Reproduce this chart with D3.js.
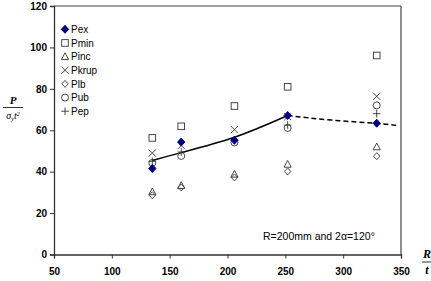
<!DOCTYPE html>
<html><head><meta charset="utf-8">
<script src="https://cdn.jsdelivr.net/npm/d3@7"></script>
<style>body{margin:0;background:#fff}svg{display:block}</style>
</head><body>
<svg id="c" width="431" height="281"></svg>
<script>
const xVals = [135, 160, 206, 252, 329];
const Pex   = [41.5, 54.3, 55.2, 67.1, 63.4];
const Pmin  = [56.3, 61.9, 71.7, 81.0, 96.1];
const Pinc  = [30.3, 33.3, 38.8, 43.6, 52.0];
const Pkrup = [49.0, 52.6, 60.3, 66.5, 76.4];
const Plb   = [28.6, 32.4, 37.2, 40.1, 47.5];
const Pub   = [44.2, 47.6, 54.1, 61.1, 72.0];
const Pep   = [45.0, 49.5, 55.0, 62.5, 68.0];
const fitSolid  = [[135, 45.4], [160, 49.2], [206, 56.6], [252, 67.1]];
const fitDashed = [[252, 67.1], [290, 64.9], [329, 63.3], [348, 62.2]];
const xTicks = [50, 100, 150, 200, 250, 300, 350];
const yTicks = [0, 20, 40, 60, 80, 100, 120];

const svg = d3.select("#c");
const x = d3.scaleLinear().domain([50, 350]).range([54, 401]);
const y = d3.scaleLinear().domain([0, 120]).range([254.5, 6]);

// frame top/right
svg.append("line").attr("x1",54).attr("x2",401).attr("y1",6).attr("y2",6).attr("stroke","#444").attr("stroke-width",1.2);
svg.append("line").attr("x1",401).attr("x2",401).attr("y1",6).attr("y2",254.5).attr("stroke","#444").attr("stroke-width",1.2);

const fontAx = "Arial, 'Liberation Sans', sans-serif";
const gx = svg.append("g").attr("transform","translate(0,254.5)")
  .call(d3.axisBottom(x).tickValues(xTicks).tickSize(4).tickPadding(9).tickFormat(d3.format("d")));
const gy = svg.append("g").attr("transform","translate(54,0)")
  .call(d3.axisLeft(y).tickValues(yTicks).tickSize(4).tickPadding(3).tickFormat(d3.format("d")));
[gx, gy].forEach(g => {
  g.select(".domain").attr("stroke","#333").attr("stroke-width",1.3);
  g.selectAll(".tick line").attr("stroke","#333");
  g.selectAll("text").attr("font-family",fontAx).attr("font-size","10px").attr("font-weight","bold").attr("fill","#000");
});

// fit lines
const lineS = d3.line().x(d => x(d[0])).y(d => y(d[1])).curve(d3.curveNatural);
svg.append("path").attr("d", lineS(fitSolid)).attr("fill","none").attr("stroke","#000").attr("stroke-width",1.5);
svg.append("path").attr("d", lineS(fitDashed)).attr("fill","none").attr("stroke","#000").attr("stroke-width",1.5).attr("stroke-dasharray","5,3");

// markers
function marker(g, type, cx, cy) {
  const s = 3.3;
  const st = {fill:"none", stroke:"#333", "stroke-width":0.9};
  const apply = (el, o) => { for (const k in o) el.attr(k, o[k]); return el; };
  if (type === "Pex") {
    g.append("path").attr("d",`M${cx},${cy-4}L${cx+3.6},${cy}L${cx},${cy+4}L${cx-3.6},${cy}Z`).attr("fill","#000080").attr("stroke","#000080");
  } else if (type === "Pmin") {
    apply(g.append("rect").attr("x",cx-s).attr("y",cy-s).attr("width",2*s).attr("height",2*s), st);
  } else if (type === "Pinc") {
    apply(g.append("path").attr("d",`M${cx},${cy-3.8}L${cx+3.6},${cy+3}L${cx-3.6},${cy+3}Z`), st);
  } else if (type === "Pkrup") {
    apply(g.append("path").attr("d",`M${cx-3.6},${cy-3.6}L${cx+3.6},${cy+3.6}M${cx+3.6},${cy-3.6}L${cx-3.6},${cy+3.6}`), st);
  } else if (type === "Plb") {
    apply(g.append("path").attr("d",`M${cx},${cy-3.5}L${cx+3.2},${cy}L${cx},${cy+3.5}L${cx-3.2},${cy}Z`), st);
  } else if (type === "Pub") {
    apply(g.append("circle").attr("cx",cx).attr("cy",cy).attr("r",3.5), st);
  } else if (type === "Pep") {
    apply(g.append("path").attr("d",`M${cx-3.8},${cy}L${cx+3.8},${cy}M${cx},${cy-3.8}L${cx},${cy+3.8}`), st);
  }
}
const series = [["Pex",Pex],["Pmin",Pmin],["Pinc",Pinc],["Pkrup",Pkrup],["Plb",Plb],["Pub",Pub],["Pep",Pep]];
const gm = svg.append("g");
series.slice(1).concat([series[0]]).forEach(([name, vals]) => {
  vals.forEach((v, i) => marker(gm, name, x(xVals[i]), y(v)));
});

// legend
const lg = svg.append("g");
series.forEach(([name], i) => {
  const ly = 29.3 + i * 13.65;
  marker(lg, name, 65, ly);
  lg.append("text").attr("x",71).attr("y",ly+3.6).text(name)
    .attr("font-family",fontAx).attr("font-size","10px").attr("fill","#000");
});

// annotation
svg.append("text").attr("x",263).attr("y",240).attr("font-family",fontAx).attr("font-size","10.5px").attr("fill","#000")
  .text("R=200mm and 2\u03B1=120\u00B0");

// y axis label
const tf = "'Times New Roman', 'Liberation Serif', serif";
const yl = svg.append("g");
yl.append("text").attr("x",13).attr("y",104).attr("text-anchor","middle").attr("font-family",tf).attr("font-style","italic").attr("font-weight","bold").attr("font-size","11px").text("P");
yl.append("line").attr("x1",3).attr("x2",23).attr("y1",107.5).attr("y2",107.5).attr("stroke","#000").attr("stroke-width",0.8);
const t2 = yl.append("text").attr("x",13).attr("y",119).attr("text-anchor","middle").attr("font-family",tf).attr("font-style","italic").attr("font-size","10px");
t2.append("tspan").text("\u03C3");
t2.append("tspan").attr("font-size","6px").attr("dy",2).text("y");
t2.append("tspan").attr("dy",-2).text("t");
t2.append("tspan").attr("font-size","6px").attr("dy",-3).text("2");

// x axis label
const xl = svg.append("g");
xl.append("text").attr("x",427).attr("y",258).attr("text-anchor","middle").attr("font-family",tf).attr("font-style","italic").attr("font-weight","bold").attr("font-size","12px").text("R");
xl.append("line").attr("x1",422).attr("x2",432).attr("y1",262).attr("y2",262).attr("stroke","#000").attr("stroke-width",0.8);
xl.append("text").attr("x",427).attr("y",274).attr("text-anchor","middle").attr("font-family",tf).attr("font-style","italic").attr("font-weight","bold").attr("font-size","12px").text("t");
</script>
</body></html>
